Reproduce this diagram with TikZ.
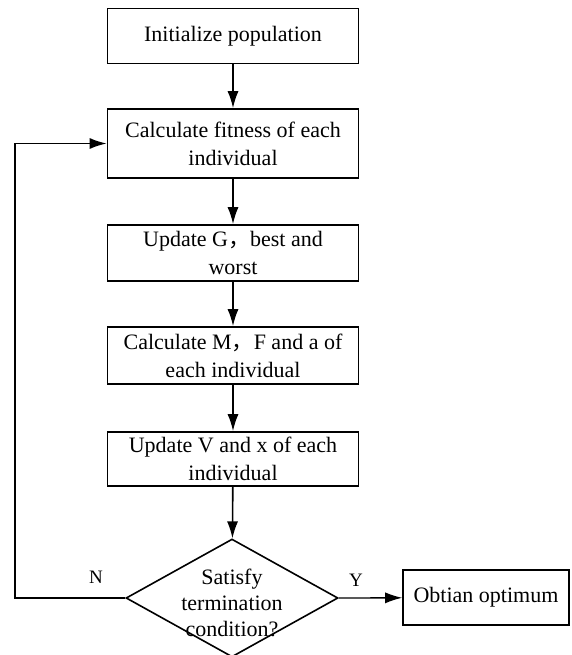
\documentclass[tikz,border=0pt]{standalone}
\usepackage{fontspec}
\setmainfont{Liberation Serif}
\newfontfamily\cjk{Noto Sans CJK SC}
\usetikzlibrary{shapes.geometric, arrows.meta, positioning}
\tikzset{/Flow/box/.style={
	shape=rectangle, draw, line width=1.6pt, minimum width=251pt, inner sep=2pt, align=center, font=\fontsize{22}{28}\selectfont
}}
\tikzset{/Flow/cond/.style={
	shape=diamond, draw, line width=1.6pt, minimum width=212pt, minimum height=118pt, inner sep=0
}}
\tikzset{/Flow/arr/.style={
	-{Latex[length=17pt,width=11pt]}, draw, line width=1.6pt
}}

\begin{document}
\begin{tikzpicture}[x=1pt,y=-1pt]
\useasboundingbox (0,0) rectangle (572,655);
{%\large
\node[/Flow/box, minimum height=55pt] (init) at (233,36) {Initialize population};
\node[/Flow/box, minimum height=69pt] (fit) at (233,143.5) {Calculate fitness of each\\individual};
\node[/Flow/box, minimum height=56pt] (upd) at (233,253) {Update G{\cjk ，}best and\\worst};
\node[/Flow/box, minimum height=57pt] (calc) at (233,355.5) {Calculate M{\cjk ，}F and a of\\each individual};
\node[/Flow/box, minimum height=54pt] (move) at (233,459) {Update V and x of each\\individual};
\node[/Flow/cond] (cond) at (232,598) {};
\node[align=center, font=\fontsize{22}{26}\selectfont] (condtxt) at (232,603) {Satisfy\\termination\\condition?};
\node[/Flow/box, minimum width=166pt, minimum height=55pt] (best) at (486,597.5) {Obtian optimum};
\coordinate (back) at (15,598);
}
{\footnotesize
\node[font=\fontsize{19}{22}\selectfont] (no) at (96,577) {N};
\node[font=\fontsize{19}{22}\selectfont] (yes) at (356,580) {Y};
}

\path[/Flow/arr] (init) -- (fit);
\path[/Flow/arr] (fit) -- (upd);
\path[/Flow/arr] (upd) -- (calc);
\path[/Flow/arr] (calc) -- (move);
\path[/Flow/arr] (move) -- (cond);
\path[/Flow/arr, line width=1.3pt] (cond.east) -- (best);
\path[/Flow/arr] (cond.west) -- (back) |- (fit.west);
\end{tikzpicture}
\end{document}
